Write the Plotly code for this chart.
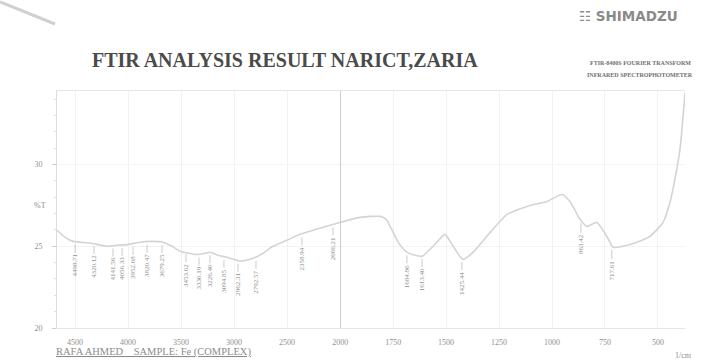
import plotly.graph_objects as go

# ---- data ----
wn_high = [4670, 4594, 4519, 4358, 4198, 4104, 4009, 3887, 3792, 3670, 3585, 3509,
           3349, 3274, 3226, 3151, 3066, 2943, 2820, 2726, 2632, 2500, 2377, 2255, 2160, 2000]
t_high = [25.98, 25.55, 25.3, 25.2, 25.0, 25.06, 25.1, 25.25, 25.3, 25.25, 25.0, 24.7,
          24.5, 24.57, 24.63, 24.45, 24.33, 24.1, 24.27, 24.57, 25.0, 25.37, 25.73, 25.98, 26.16, 26.46]

wn_low = [2000, 1906, 1811, 1783, 1764, 1726, 1684, 1646, 1613, 1585, 1561, 1505, 1481,
          1458, 1420, 1373, 1292, 1212, 1118, 1024, 953, 915, 868, 835, 788, 741, 712,
          665, 599, 538, 476, 443, 420, 396, 372]
t_low = [26.46, 26.77, 26.83, 26.65, 26.22, 25.24, 24.63, 24.45, 24.39, 24.7, 25.0, 25.73,
         25.3, 24.82, 24.2, 24.63, 25.85, 26.95, 27.44, 27.74, 28.17, 27.74, 26.65, 26.22,
         26.46, 25.6, 24.94, 25.0, 25.24, 25.6, 26.46, 27.68, 29.08, 30.91, 34.39]

peak_wn_high = [4498.71, 4320.12, 4141.56, 4056.33, 3952.08, 3820.47, 3679.25, 3453.62,
                3330.19, 3226.40, 3094.85, 2962.31, 2792.57, 2358.94, 2066.21]
peak_t_high = [25.3, 25.2, 25.05, 25.08, 25.15, 25.27, 25.25, 24.7, 24.5, 24.63, 24.35,
               24.12, 24.3, 25.72, 26.35]
peak_wn_low = [1684.86, 1613.40, 1425.44, 863.42, 717.61]
peak_t_low = [24.63, 24.39, 24.22, 26.6, 24.98]

xticks_high = [4500, 4000, 3500, 3000, 2500]
xticks_low = [2000, 1750, 1500, 1250, 1000, 750, 500]
yticks = [20, 25, 30]
ytick_text = ["20", "25", "30"]

# ---- figure ----
LINE = "#d4d4d4"
LABEL = "#909090"
fig = go.Figure()
fig.add_trace(go.Scatter(x=wn_high, y=t_high, mode="lines", xaxis="x", yaxis="y",
                         line=dict(color=LINE, width=1.6, shape="spline", smoothing=0.6),
                         hoverinfo="x+y", showlegend=False))
fig.add_trace(go.Scatter(x=wn_low, y=t_low, mode="lines", xaxis="x2", yaxis="y",
                         line=dict(color=LINE, width=1.6, shape="spline", smoothing=0.6),
                         hoverinfo="x+y", showlegend=False))

split = (340 - 57) / 628.0
axis_common = dict(showgrid=True, gridcolor="#f1f1f1", zeroline=False, ticks="",
                   tickfont=dict(family="Liberation Serif", size=8, color=LABEL),
                   showline=True, linecolor="#e6e6e6", linewidth=1, ticklabelstandoff=6)
fig.update_layout(
    width=727, height=360,
    margin=dict(l=57, r=42, t=91, b=32),
    paper_bgcolor="white", plot_bgcolor="white",
    xaxis=dict(domain=[0, split], range=[4670, 2000], tickvals=xticks_high,
               anchor="y", mirror=True, **axis_common),
    xaxis2=dict(domain=[split, 1], range=[2001, 372], tickvals=xticks_low,
                anchor="y", mirror=True, **axis_common),
    yaxis=dict(range=[20, 34.5], tickvals=yticks, ticktext=ytick_text,
               showgrid=True, gridcolor="#f3f3f3", zeroline=False,
               showline=True, linecolor="#dcdcdc", linewidth=1, mirror=False,
               ticks="outside", ticklen=4, tickcolor="#cfcfcf",
               minor=dict(dtick=1, ticks="outside", ticklen=2, tickcolor="#dedede"),
               tickfont=dict(family="Liberation Serif", size=8, color=LABEL),
               ticklabelstandoff=8),
    showlegend=False,
)

# divider line at 2000 cm-1
fig.add_shape(type="line", xref="x2", yref="paper", x0=2000, x1=2000, y0=0, y1=1,
              line=dict(color="#b8b8b8", width=1))

# peak labels
def add_peaks(wns, ts, xref):
    for w, t in zip(wns, ts):
        fig.add_annotation(x=w, y=t, xref=xref, yref="y", text=f"{w:.2f}",
                           textangle=-90, showarrow=True, arrowhead=0, arrowwidth=0.8,
                           arrowcolor="#bdbdbd", ax=0, ay=24, standoff=3,
                           font=dict(family="Liberation Serif", size=7, color=LABEL))

add_peaks(peak_wn_high, peak_t_high, "x")
add_peaks(peak_wn_low, peak_t_low, "x2")

# free texts placed in figure pixel coordinates (converted to paper units)
def ftext(px, py, text, size, color, family="Liberation Serif", xanchor="center", bold=False):
    x = (px - 57) / 628.0
    y = (328 - py) / 237.0
    fig.add_annotation(x=x, y=y, xref="paper", yref="paper",
                       text=f"<b>{text}</b>" if bold else text, showarrow=False,
                       xanchor=xanchor, yanchor="middle",
                       font=dict(family=family, size=size, color=color))

ftext(285, 60, "FTIR ANALYSIS RESULT NARICT,ZARIA", 20, "#4a4a4a", bold=True)
ftext(640, 63, "FTIR-8400S FOURIER TRANSFORM", 6, "#6f6f6f", bold=True)
ftext(640, 75, "INFRARED SPECTROPHOTOMETER", 6, "#6f6f6f", bold=True)
ftext(628, 16, "\u2637 SHIMADZU", 13.5, "#8a8a8a", family="DejaVu Sans", bold=True)
ftext(40, 205, "%T", 8, LABEL)
ftext(683, 355, "1/cm", 8, LABEL)
ftext(153, 352, "<u>RAFA AHMED    SAMPLE: Fe (COMPLEX)</u>", 10.5, "#8c8c8c")

# scan streak artifact (top-left)
fig.add_shape(type="line", xref="paper", yref="paper",
              x0=(0 - 57) / 628.0, y0=(328 - 2) / 237.0,
              x1=(55 - 57) / 628.0, y1=(328 - 24) / 237.0,
              line=dict(color="#d0d0d0", width=3))

fig.write_html("out.html")
